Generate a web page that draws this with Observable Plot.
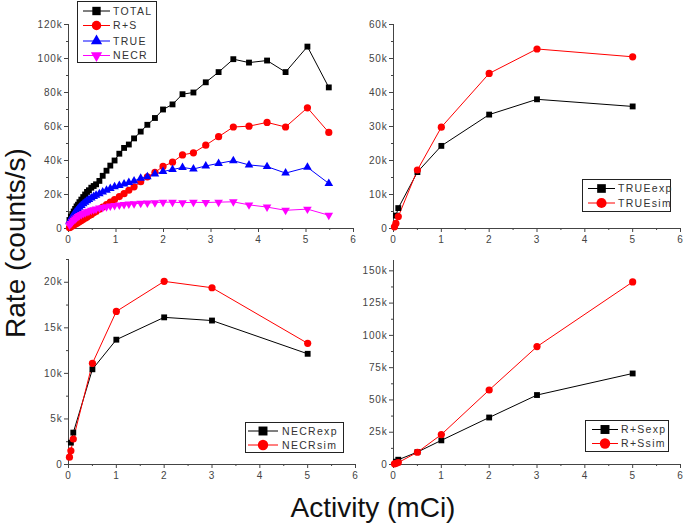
<!DOCTYPE html>
<html>
<head>
<meta charset="utf-8">
<script src="https://cdn.jsdelivr.net/npm/d3@7"></script>
<script src="https://cdn.jsdelivr.net/npm/@observablehq/plot@0.6"></script>
<style>
  html, body { margin: 0; padding: 0; background: #fff; }
  #wrap { position: relative; width: 685px; height: 524px; overflow: hidden; font-family: "Liberation Sans", Arial, sans-serif; }
  #wrap svg.panel { position: absolute; }
</style>
</head>
<body>
<div id="wrap"></div>
<script>
// ---------- data (rates in thousands of counts/s, activity in mCi) ----------
const activityScan = [0.02,0.05,0.08,0.11,0.14,0.17,0.20,0.23,0.27,0.31,0.35,0.39,0.43,0.48,0.53,0.58,0.65,0.72,0.80,0.88,0.97,1.07,1.17,1.27,1.38,1.52,1.66,1.82,1.99,2.19,2.40,2.63,2.89,3.16,3.47,3.80,4.18,4.57,5.03,5.48];
const totalRate   = [5,7,8.5,10,11.5,13,14,15.5,17,18.5,20,21.5,22.5,24,25,26,28,31,34,37,40,44,47.4,49.4,53,57,61,65,70,73,79,80,86,92,99.6,97.6,98.8,92,107,83];
const rsRate      = [0.5,1,1.5,2,2.5,3,3.5,4,4.7,5.4,6.1,6.8,7.5,8.3,9.2,10,11.3,12.6,14,15.5,17,18.8,20.5,22.5,24.5,27.5,30.4,33,36.5,39,43.3,44.5,49,54,59.7,60.2,62.4,59.7,71,56.5];
const trueRate    = [4,5.5,7,8.3,9.5,10.5,11.5,12.5,13.5,14.5,15.5,16.3,17,18,18.8,19.5,20.5,21.5,22.5,23.5,24.5,25.3,26.2,27,28,29.5,30.5,32,33.5,34.7,35.9,35,36.8,38.3,39.9,37.4,36.4,32.6,36,26.5];
const necrRate    = [2,3,4,4.8,5.6,6.3,7,7.6,8.2,8.8,9.3,9.8,10.2,10.7,11.1,11.5,12,12.4,12.8,13.2,13.5,13.8,14.1,14.4,14.6,14.8,15,15.2,15.5,15.5,15.2,15.4,15.3,15.5,15.7,13.9,12.6,10.7,11.4,7.8];

const activityExp = [0.05,0.1,0.5,1,2,3,5];
const activitySim = [0.02,0.05,0.1,0.5,1,2,3,5];
const trueExp = [3.8,6.0,16.6,24.3,33.5,38.0,35.9];
const trueSim = [0.5,1.5,3.5,17.2,29.8,45.6,52.8,50.5];
const necrExp = [2.4,3.5,10.45,13.7,16.15,15.8,12.15];
const necrSim = [0.8,1.5,2.8,11.1,16.8,20.1,19.4,13.3];
const rsExp   = [2.2,3.7,9.6,18.7,36.4,53.8,70.5];
const rsSim   = [0.5,0.9,1.5,9.5,23.2,57.7,91.3,141.4];

const xMajor = [0,1,2,3,4,5,6];
const xMinor = [0.5,1.5,2.5,3.5,4.5,5.5];

// ---------- helpers ----------
const fmtK = d => d === 0 ? "0" : d + "k";
const triUp = { draw(ctx, size) {
  const a = Math.sqrt(4 * size / Math.sqrt(3)), h = a * Math.sqrt(3) / 2;
  ctx.moveTo(0, -2 * h / 3); ctx.lineTo(a / 2, h / 3); ctx.lineTo(-a / 2, h / 3); ctx.closePath();
}};
const triDown = { draw(ctx, size) {
  const a = Math.sqrt(4 * size / Math.sqrt(3)), h = a * Math.sqrt(3) / 2;
  ctx.moveTo(0, 2 * h / 3); ctx.lineTo(a / 2, -h / 3); ctx.lineTo(-a / 2, -h / 3); ctx.closePath();
}};
const rows = (xs, ys) => xs.map((x, i) => ({x, y: ys[i]}));

const wrap = document.getElementById("wrap");

function panel(o) {
  const marks = [
    Plot.axisY({ticks: o.yMajor, tickFormat: fmtK, tickSize: 4, tickPadding: 2, label: null, stroke: "#444"}),
    Plot.axisY({ticks: o.yMinor, tickFormat: () => "", tickSize: 2, tickPadding: 0, label: null, stroke: "#444"}),
    Plot.axisX({ticks: xMajor, tickFormat: d => String(d), tickSize: 4, tickPadding: 3, label: null, stroke: "#444"}),
    Plot.axisX({ticks: xMinor, tickFormat: () => "", tickSize: 2, tickPadding: 0, label: null, stroke: "#444"}),
    Plot.ruleX([0], {stroke: "#444"}),
    Plot.ruleY([0], {stroke: "#444"})
  ];
  for (const s of o.series) {
    const data = rows(s.x, s.y);
    marks.push(Plot.line(data, {x: "x", y: "y", stroke: s.color, strokeWidth: 1}));
  }
  for (const s of o.series) {
    const data = rows(s.x, s.y);
    marks.push(Plot.dot(data, {x: "x", y: "y", symbol: s.symbol, r: s.r, fill: s.color, stroke: "none"}));
  }
  const svg = Plot.plot({
    width: o.width, height: o.height,
    marginLeft: o.ml, marginRight: o.mr, marginTop: o.mt, marginBottom: o.mb,
    x: {domain: [0, 6]},
    y: {domain: [0, o.ymax]},
    style: {fontFamily: "'Liberation Sans', Arial, sans-serif", fontSize: "10px", color: "#444", background: "transparent", overflow: "visible", letterSpacing: "0.8px"},
    marks
  });
  svg.classList.add("panel");
  svg.style.left = o.left + "px";
  svg.style.top = o.top + "px";
  wrap.appendChild(svg);
}

const cBlack = "#000", cRed = "#ff0000", cBlue = "#0000ff", cMag = "#ff00ff";

// top-left: scan of all rates
panel({
  left: 0, top: 0, width: 360, height: 250, ml: 68, mr: 7, mt: 24, mb: 22, ymax: 120,
  yMajor: [0,20,40,60,80,100,120], yMinor: [10,30,50,70,90,110],
  series: [
    {x: activityScan, y: totalRate, color: cBlack, symbol: "square", r: 3.3},
    {x: activityScan, y: rsRate, color: cRed, symbol: "circle", r: 3.6},
    {x: activityScan, y: trueRate, color: cBlue, symbol: triUp, r: 3.2},
    {x: activityScan, y: necrRate, color: cMag, symbol: triDown, r: 3.2}
  ]
});
// top-right: TRUE
panel({
  left: 345, top: 0, width: 340, height: 250, ml: 48, mr: 5, mt: 24, mb: 22, ymax: 60,
  yMajor: [0,10,20,30,40,50,60], yMinor: [5,15,25,35,45,55],
  series: [
    {x: activityExp, y: trueExp, color: cBlack, symbol: "square", r: 3.3},
    {x: activitySim, y: trueSim, color: cRed, symbol: "circle", r: 3.6}
  ]
});
// bottom-left: NECR
panel({
  left: 0, top: 250, width: 360, height: 236, ml: 68, mr: 5, mt: 9, mb: 22, ymax: 22.5,
  yMajor: [0,5,10,15,20], yMinor: [2.5,7.5,12.5,17.5,22.5],
  series: [
    {x: activityExp, y: necrExp, color: cBlack, symbol: "square", r: 3.3},
    {x: activitySim, y: necrSim, color: cRed, symbol: "circle", r: 3.6}
  ]
});
// bottom-right: R+S
panel({
  left: 345, top: 250, width: 340, height: 236, ml: 48, mr: 5, mt: 10, mb: 22, ymax: 158,
  yMajor: [0,25,50,75,100,125,150], yMinor: [12.5,37.5,62.5,87.5,112.5,137.5],
  series: [
    {x: activityExp, y: rsExp, color: cBlack, symbol: "square", r: 3.3},
    {x: activitySim, y: rsSim, color: cRed, symbol: "circle", r: 3.6}
  ]
});

// ---------- overlay: legends and axis titles ----------
const ov = d3.select(wrap).append("svg")
  .attr("width", 685).attr("height", 524)
  .style("position", "absolute").style("left", "0px").style("top", "0px")
  .style("font-family", "'Liberation Sans', Arial, sans-serif");

function legend(box, x0, x1, xt, items) {
  ov.append("rect").attr("x", box[0] + 0.5).attr("y", box[1] + 0.5)
    .attr("width", box[2] - box[0]).attr("height", box[3] - box[1])
    .attr("fill", "#fff").attr("stroke", "#222").attr("stroke-width", 1);
  for (const it of items) {
    ov.append("line").attr("x1", x0).attr("x2", x1).attr("y1", it.y).attr("y2", it.y)
      .attr("stroke", it.color).attr("stroke-width", 1);
    const sym = it.symbol === "square" ? d3.symbolSquare : it.symbol === "circle" ? d3.symbolCircle : it.symbol;
    ov.append("path").attr("d", d3.symbol(sym, it.size)())
      .attr("transform", `translate(${(x0 + x1) / 2},${it.y})`).attr("fill", it.color);
    ov.append("text").attr("x", xt).attr("y", it.y).attr("dy", "0.36em")
      .attr("font-size", 10.5).attr("letter-spacing", "1.3px").attr("fill", "#333")
      .text(it.label);
  }
}
legend([77, 1, 156, 62], 83, 110, 113, [
  {y: 11, color: cBlack, symbol: "square", size: 70, label: "TOTAL"},
  {y: 25.5, color: cRed, symbol: "circle", size: 70, label: "R+S"},
  {y: 41, color: cBlue, symbol: triUp, size: 55, label: "TRUE"},
  {y: 55.5, color: cMag, symbol: triDown, size: 55, label: "NECR"}
]);
legend([582, 179, 670, 211], 588, 615, 618, [
  {y: 188.5, color: cBlack, symbol: "square", size: 75, label: "TRUEexp"},
  {y: 203, color: cRed, symbol: "circle", size: 80, label: "TRUEsim"}
]);
legend([245, 422, 343, 452], 248, 278, 282, [
  {y: 431, color: cBlack, symbol: "square", size: 80, label: "NECRexp"},
  {y: 445, color: cRed, symbol: "circle", size: 85, label: "NECRsim"}
]);
legend([585, 420, 668, 451], 592, 618, 621, [
  {y: 429.5, color: cBlack, symbol: "square", size: 80, label: "R+Sexp"},
  {y: 443.5, color: cRed, symbol: "circle", size: 85, label: "R+Ssim"}
]);

ov.append("text").attr("transform", "translate(25,243) rotate(-90)")
  .attr("text-anchor", "middle").attr("font-size", 28).attr("fill", "#111")
  .text("Rate (counts/s)");
ov.append("text").attr("x", 373).attr("y", 517)
  .attr("text-anchor", "middle").attr("font-size", 28).attr("fill", "#111")
  .text("Activity (mCi)");
</script>
</body>
</html>
